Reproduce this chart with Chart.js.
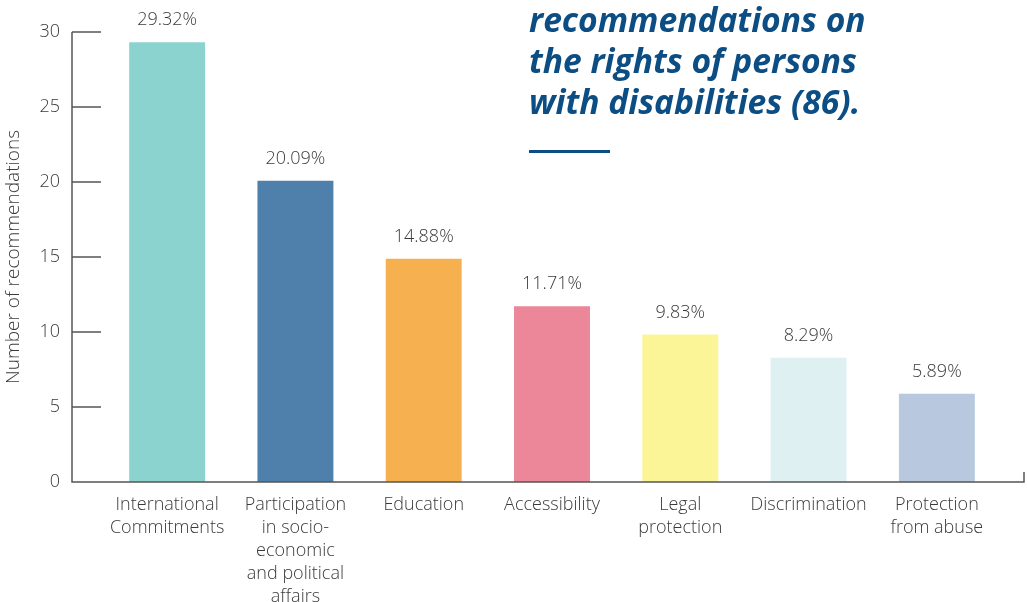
<!DOCTYPE html>
<html>
<head>
<meta charset="utf-8">
<script src="https://cdn.jsdelivr.net/npm/chart.js@4.4.1/dist/chart.umd.min.js"></script>
<style>
  html, body { margin: 0; padding: 0; background: #ffffff; }
  #wrap { position: relative; width: 1028px; height: 602px; overflow: hidden; }
  #chart { position: absolute; left: 0; top: 0; }
  #heading {
    position: absolute; left: 529px; top: -1px;
    font-family: "Open Sans", sans-serif; font-weight: 700; font-style: italic;
    font-size: 33.6px; line-height: 41px; color: #0c4e83; white-space: nowrap;
  }
  #rule { position: absolute; left: 529px; top: 150px; width: 81px; height: 3px; background: #0c4e83; }
</style>
</head>
<body>
<div id="wrap">
  <canvas id="chart" width="1028" height="602"></canvas>
  <div id="heading">recommendations on<br>the rights of persons<br>with disabilities (86).</div>
  <div id="rule"></div>
</div>
<script>
// Recommendation themes and their shares
const categories = [
  ["International", "Commitments"],
  ["Participation", "in socio-", "economic", "and political", "affairs"],
  "Education",
  "Accessibility",
  ["Legal", "protection"],
  "Discrimination",
  ["Protection", "from abuse"]
];
const values = [29.32, 20.09, 14.88, 11.71, 9.83, 8.29, 5.89];
const barColors = ["#8bd3cf", "#4f7fab", "#f6b04f", "#ec8699", "#fcf597", "#dff0f3", "#b8c8de"];
const yTicks = [0, 5, 10, 15, 20, 25, 30];

const TEXT = "#3a3a3a";
const AXIS = "#555555";
const FONT = "'Open Sans', sans-serif";

// Axis frame: left spine with inward tick marks, baseline and its end cap
const axisFrame = {
  id: "axisFrame",
  afterDatasetsDraw(chart) {
    const { ctx, chartArea, scales } = chart;
    const y = scales.y;
    const x0 = chartArea.left - 31;
    const x1 = chart.width - 4;
    const base = y.getPixelForValue(0);
    ctx.save();
    ctx.strokeStyle = AXIS;
    ctx.lineWidth = 1.5;
    ctx.beginPath();
    ctx.moveTo(x0, y.getPixelForValue(30));
    ctx.lineTo(x0, base);
    ctx.lineTo(x1, base);
    ctx.lineTo(x1, base - 10);
    yTicks.forEach(v => {
      const py = y.getPixelForValue(v);
      ctx.moveTo(x0, py);
      ctx.lineTo(x0 + 29, py);
    });
    ctx.stroke();
    ctx.restore();
  }
};

// Percentage labels above each bar
const valueLabels = {
  id: "valueLabels",
  afterDatasetsDraw(chart) {
    const { ctx } = chart;
    const meta = chart.getDatasetMeta(0);
    ctx.save();
    ctx.fillStyle = TEXT;
    ctx.font = "300 18px " + FONT;
    ctx.textAlign = "center";
    ctx.textBaseline = "alphabetic";
    meta.data.forEach((bar, i) => {
      ctx.fillText(values[i].toFixed(2) + "%", bar.x, bar.y - 17);
    });
    ctx.restore();
  }
};

new Chart(document.getElementById("chart"), {
  type: "bar",
  data: {
    labels: categories,
    datasets: [{
      data: values,
      backgroundColor: barColors,
      borderWidth: 0,
      barPercentage: 0.592,
      categoryPercentage: 1
    }]
  },
  options: {
    responsive: false,
    animation: false,
    devicePixelRatio: 1,
    layout: { padding: { top: 32, right: 27, left: 0, bottom: 0 } },
    plugins: { legend: { display: false }, tooltip: { enabled: false } },
    scales: {
      x: {
        grid: { display: false, drawTicks: false },
        border: { display: false },
        ticks: {
          color: TEXT,
          font: { family: FONT, size: 18, weight: 300, lineHeight: 1.28 },
          padding: 11,
          maxRotation: 0,
          autoSkip: false
        },
        afterFit(s) { s.height = 120; }
      },
      y: {
        min: 0, max: 30,
        grid: { display: false, drawTicks: false },
        border: { display: false },
        ticks: {
          stepSize: 5,
          color: TEXT,
          font: { family: FONT, size: 18, weight: 300 },
          padding: 43
        },
        title: {
          display: true,
          text: "Number of recommendations",
          color: TEXT,
          font: { family: FONT, size: 19, weight: 300 },
          padding: { top: 2, bottom: 4 }
        },
        afterFit(s) {
          s.width = 103;
          s.paddingTop = 0;
          s.paddingBottom = 0;
        }
      }
    }
  },
  plugins: [axisFrame, valueLabels]
});
</script>
</body>
</html>
